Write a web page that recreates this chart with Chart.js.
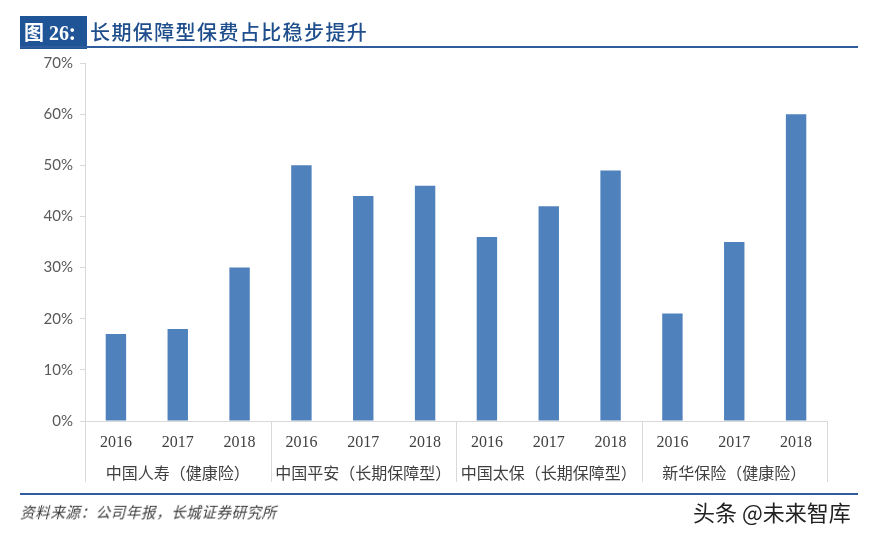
<!DOCTYPE html>
<html>
<head>
<meta charset="utf-8">
<script src="https://cdn.jsdelivr.net/npm/chart.js@4"></script>
<style>
    body { margin: 0; background: #fff; }
    #wrap { position: relative; width: 869px; height: 536px; overflow: hidden; }
    #chart { position: absolute; left: 0; top: 0; }
    .title { position: absolute; left: 20px; top: 16px; height: 31px; font-family: "Noto Sans CJK SC"; font-weight: 500; font-size: 20px; line-height: 31px; color: #1f4e8c; white-space: nowrap; letter-spacing: 1.4px; }
    .title .tag { display: inline-block; box-sizing: border-box; width: 67px; background: #1f5597; color: #fff; padding-left: 4px; margin-right: 3px; font-weight: bold; letter-spacing: 0; font-family: "Liberation Serif", "Noto Sans CJK SC"; }
    .title .tag span { font-family: "Noto Sans CJK SC"; }
    .rule { position: absolute; left: 20px; width: 838px; height: 2px; background: #2e5c9c; }
    .source { position: absolute; left: 22px; top: 500px; font-family: "Noto Sans CJK SC"; font-size: 14.5px; letter-spacing: 0.6px; color: #3a3a3a; transform: skewX(-14deg); transform-origin: left; }
    .mark { position: absolute; left: 693px; top: 495px; font-family: "Noto Sans CJK SC"; font-size: 22px; color: #222; }
</style>
</head>
<body>
<div id="wrap">
    <canvas id="chart" width="869" height="536"></canvas>
    <div class="title"><span class="tag"><span>图</span> 26<span>:</span></span>长期保障型保费占比稳步提升</div>
    <div class="rule" style="top:46px"></div>
    <div class="rule" style="top:493px"></div>
    <div class="source">资料来源：公司年报，长城证券研究所</div>
    <div class="mark">头条 @未来智库</div>
</div>
<script>
// data
const years = ['2016', '2017', '2018', '2016', '2017', '2018', '2016', '2017', '2018', '2016', '2017', '2018'];
const groups = ['中国人寿（健康险）', '中国平安（长期保障型）', '中国太保（长期保障型）', '新华保险（健康险）'];
const shares = [17, 18, 30, 50, 44, 46, 36, 42, 49, 21, 35, 60];
const yTicks = [0, 10, 20, 30, 40, 50, 60, 70];

const axisGray = '#d9d9d9';

// vertical dividers between the company groups, down through both label rows
const dividers = {
    id: 'dividers',
    afterDraw: function (chart) {
        let x = chart.scales.x;
        let x2 = chart.scales.x2;
        let ctx = chart.ctx;
        let half = (x.getPixelForValue(1) - x.getPixelForValue(0)) / 2;
        ctx.save();
        ctx.strokeStyle = axisGray;
        ctx.lineWidth = 1;
        for (let i = 0; i <= years.length; i += 3) {
            let px = Math.round(x.getPixelForValue(i) - half) + 0.5;
            if (i === years.length) px = Math.round(x.getPixelForValue(i - 1) + half) + 0.5;
            ctx.beginPath();
            ctx.moveTo(px, x.top);
            ctx.lineTo(px, x2.bottom - 4);
            ctx.stroke();
        }
        ctx.restore();
    }
};

new Chart(document.getElementById('chart'), {
    type: 'bar',
    data: {
        labels: years,
        datasets: [{
            data: shares,
            backgroundColor: '#4f81bd',
            borderWidth: 0,
            barPercentage: 0.33,
            categoryPercentage: 1
        }]
    },
    options: {
        responsive: false,
        animation: false,
        layout: { padding: { left: 20, right: 42, top: 63, bottom: 50 } },
        plugins: { legend: { display: false }, tooltip: { enabled: false } },
        scales: {
            y: {
                min: 0,
                max: 70,
                afterBuildTicks: function (scale) {
                    scale.ticks = yTicks.map(v => ({ value: v }));
                },
                afterFit: function (scale) { scale.width = 65; },
                ticks: {
                    callback: v => v + '%',
                    color: '#595959',
                    padding: 7,
                    font: { family: 'Lato', size: 15 }
                },
                grid: { drawOnChartArea: false, drawTicks: true, tickLength: 5, color: axisGray },
                border: { color: axisGray }
            },
            x: {
                afterFit: function (scale) { scale.height = 34; },
                ticks: {
                    color: '#404040',
                    padding: 4,
                    maxRotation: 0,
                    autoSkip: false,
                    font: { family: 'Liberation Serif', size: 16 }
                },
                grid: { display: false },
                border: { color: axisGray }
            },
            x2: {
                type: 'category',
                position: 'bottom',
                labels: groups,
                offset: true,
                afterFit: function (scale) { scale.height = 31; },
                ticks: {
                    color: '#404040',
                    padding: 0,
                    maxRotation: 0,
                    autoSkip: false,
                    font: { family: 'Noto Sans CJK SC', size: 16 }
                },
                grid: { display: false },
                border: { display: false }
            }
        }
    },
    plugins: [dividers]
});
</script>
</body>
</html>
